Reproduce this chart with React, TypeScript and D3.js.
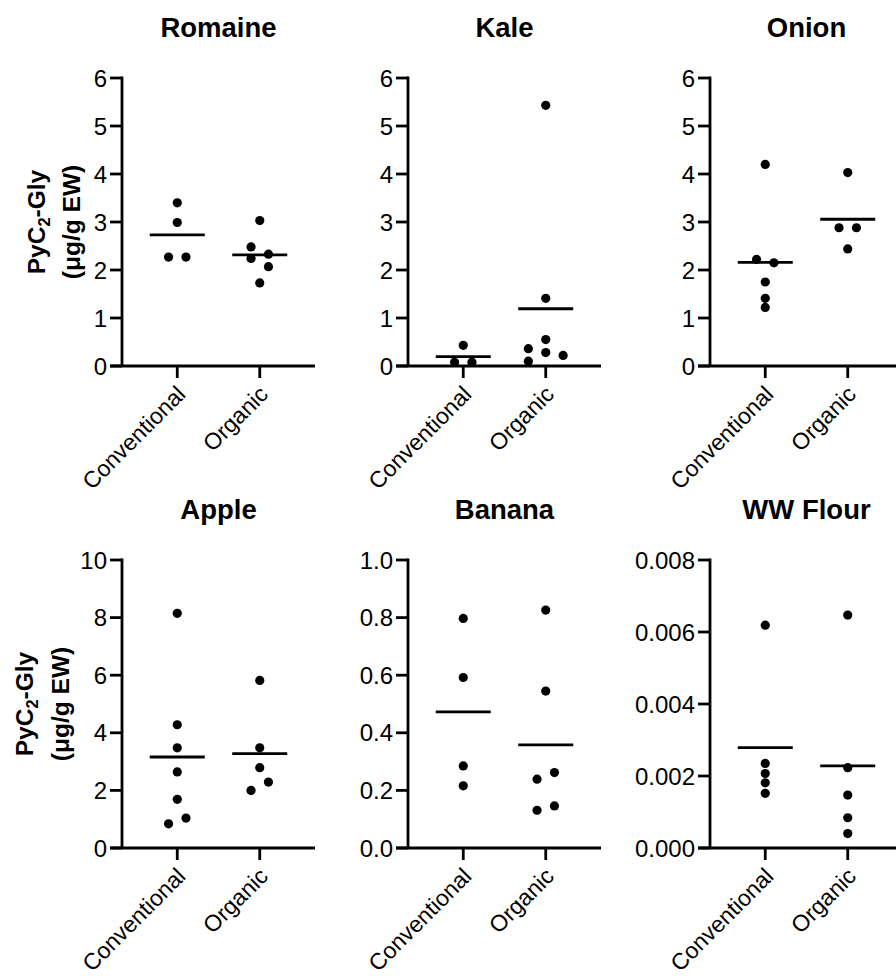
import React from "react";
import * as d3 from "d3";

const categories = ["Conventional", "Organic"];
const panelTitles = ["Romaine", "Kale", "Onion", "Apple", "Banana", "WW Flour"];

// values in original sample order (order decides left/right within a row)
const romaineConventional = [3.4, 2.99, 2.27, 2.27];
const romaineOrganic = [3.03, 2.48, 2.33, 2.24, 2.07, 1.73];
const kaleConventional = [0.43, 0.08, 0.08];
const kaleOrganic = [5.43, 1.41, 0.55, 0.36, 0.28, 0.22, 0.1];
const onionConventional = [4.2, 2.22, 2.15, 1.75, 1.41, 1.22];
const onionOrganic = [4.03, 2.88, 2.88, 2.44];
const appleConventional = [8.15, 4.28, 3.48, 2.64, 1.69, 0.84, 1.04];
const appleOrganic = [5.82, 3.48, 2.79, 2.0, 2.29];
const bananaConventional = [0.797, 0.592, 0.285, 0.216];
const bananaOrganic = [0.826, 0.545, 0.239, 0.262, 0.131, 0.146];
const flourConventional = [0.00619, 0.00235, 0.00207, 0.00181, 0.00152];
const flourOrganic = [0.00647, 0.00223, 0.00147, 0.00084, 0.0004];

const ticksLeafy = [0, 1, 2, 3, 4, 5, 6];
const ticksApple = [0, 2, 4, 6, 8, 10];
const ticksBanana = [0, 0.2, 0.4, 0.6, 0.8, 1.0];
const ticksFlour = [0, 0.002, 0.004, 0.006, 0.008];
const tickFormats = ["d", "d", "d", "d", ".1f", ".3f"];

const seriesByPanel = [
  [romaineConventional, romaineOrganic],
  [kaleConventional, kaleOrganic],
  [onionConventional, onionOrganic],
  [appleConventional, appleOrganic],
  [bananaConventional, bananaOrganic],
  [flourConventional, flourOrganic],
];
const ticksByPanel = [ticksLeafy, ticksLeafy, ticksLeafy, ticksApple, ticksBanana, ticksFlour];

// layout
const W = 896;
const H = 976;
const PLOT_H = 288;
const AXIS_LEN = 193;
const ROW_TOP = [78, 560];
const COL_X = [122, 408, 710];
const FONT = "'Liberation Sans', Arial, Helvetica, sans-serif";
const DOT_R = 4.6;
const STEP = 17.4;
const ROW_T = 8.6;
const COLL = 8.8;
const MEAN_HALF = 27.5;
const STROKE = 2.8;
const TICK = 12;
const TICK_FONT = 24;
const CAT_FONT = 23;
const TITLE_FONT = 27.5;
const LABEL_FONT = 24.5;

type Pt = { v: number; i: number; py: number; dx: number };

function layoutPoints(values: number[], y: d3.ScaleLinear<number, number>): Pt[] {
  const pts: Pt[] = values.map((v, i) => ({ v, i, py: y(v), dx: 0 }));
  const sorted = [...pts].sort((a, b) => b.v - a.v);
  const rows: Pt[][] = [];
  let k = 0;
  while (k < sorted.length) {
    const start = sorted[k];
    const row = [start];
    k++;
    while (k < sorted.length && sorted[k].py - start.py < ROW_T) {
      row.push(sorted[k]);
      k++;
    }
    rows.push(row);
  }
  const placed: Pt[] = [];
  const collides = (dx: number, py: number) =>
    placed.some((q) => Math.hypot(q.dx - dx, q.py - py) < COLL);
  rows.forEach((row) => {
    row.sort((a, b) => a.i - b.i);
    const n = row.length;
    if (n === 1) {
      const p = row[0];
      const cands = [0, -STEP, STEP, -2 * STEP, 2 * STEP];
      p.dx = cands.find((c) => !collides(c, p.py)) ?? 0;
    } else {
      row.forEach((p, j) => {
        p.dx = (j - (n - 1) / 2) * STEP;
      });
    }
    placed.push(...row);
  });
  return pts;
}

function Panel({ index }: { index: number }) {
  const rowIdx = Math.floor(index / 3);
  const colIdx = index % 3;
  const ox = COL_X[colIdx];
  const oy = ROW_TOP[rowIdx];
  const ticks = ticksByPanel[index];
  const series = seriesByPanel[index];
  const y = d3.scaleLinear().domain([0, ticks[ticks.length - 1]]).range([PLOT_H, 0]);
  const x = d3.scalePoint<string>().domain(categories).range([0, AXIS_LEN]).padding(0.67);
  const fmt = d3.format(tickFormats[index]);

  return (
    <g transform={`translate(${ox},${oy})`}>
      <text
        x={AXIS_LEN / 2}
        y={-40.7}
        textAnchor="middle"
        fontFamily={FONT}
        fontWeight="bold"
        fontSize={TITLE_FONT}
      >
        {panelTitles[index]}
      </text>
      {/* y axis */}
      <line x1={0} x2={0} y1={-STROKE / 2} y2={PLOT_H} stroke="#000" strokeWidth={STROKE} />
      {ticks.map((t) => (
        <g key={t} transform={`translate(0,${y(t)})`}>
          <line x1={-TICK} x2={0} stroke="#000" strokeWidth={STROKE} />
          <text
            x={-15}
            dy="0.36em"
            textAnchor="end"
            fontFamily={FONT}
            fontSize={TICK_FONT}
          >
            {fmt(t)}
          </text>
        </g>
      ))}
      {/* x axis */}
      <line x1={-TICK} x2={AXIS_LEN} y1={PLOT_H} y2={PLOT_H} stroke="#000" strokeWidth={STROKE} />
      {categories.map((c) => (
        <g key={c} transform={`translate(${x(c)},${PLOT_H})`}>
          <line y1={0} y2={TICK} stroke="#000" strokeWidth={STROKE} />
          <text
            transform={`translate(4,24) rotate(-45)`}
            dy="0.35em"
            textAnchor="end"
            fontFamily={FONT}
            fontSize={CAT_FONT}
          >
            {c}
          </text>
        </g>
      ))}
      {/* data */}
      {series.map((vals, si) => {
        const cx = x(categories[si]) as number;
        const pts = layoutPoints(vals, y);
        const m = d3.mean(vals) as number;
        return (
          <g key={si}>
            {pts.map((p, pi) => (
              <circle key={pi} cx={cx + p.dx} cy={p.py} r={DOT_R} fill="#000" />
            ))}
            <line
              x1={cx - MEAN_HALF}
              x2={cx + MEAN_HALF}
              y1={y(m)}
              y2={y(m)}
              stroke="#000"
              strokeWidth={STROKE}
            />
          </g>
        );
      })}
    </g>
  );
}

function YLabel({ row, b1, b2 }: { row: number; b1: number; b2: number }) {
  const cy = ROW_TOP[row] + PLOT_H / 2;
  return (
    <g fontFamily={FONT} fontWeight="bold" fontSize={LABEL_FONT}>
      <text transform={`translate(${b1},${cy}) rotate(-90)`} textAnchor="middle">
        <tspan>PyC</tspan>
        <tspan fontSize={16.5} dy={5}>2</tspan>
        <tspan dy={-5}>-Gly</tspan>
      </text>
      <text transform={`translate(${b2},${cy}) rotate(-90)`} textAnchor="middle">
        (μg/g EW)
      </text>
    </g>
  );
}

export default function App() {
  return (
    <svg
      width={W}
      height={H}
      viewBox={`0 0 ${W} ${H}`}
      style={{ position: "absolute", left: 0, top: 0, background: "#fff" }}
    >
      <rect width={W} height={H} fill="#fff" />
      <YLabel row={0} b1={45} b2={80} />
      <YLabel row={1} b1={32.5} b2={68.5} />
      {panelTitles.map((_, i) => (
        <Panel key={i} index={i} />
      ))}
    </svg>
  );
}
